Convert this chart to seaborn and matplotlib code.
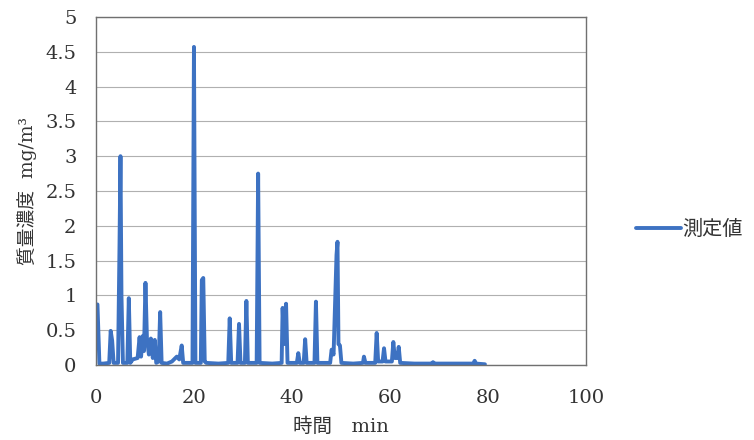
import numpy as np
import pandas as pd
import matplotlib
matplotlib.use("Agg")
import matplotlib.pyplot as plt
import seaborn as sns

time_min = [
    0.0, 0.3, 0.7, 1.5, 2.7, 3.0, 3.3, 3.6, 4.5, 4.8, 5.0, 5.2, 5.5,
    6.4, 6.7, 7.0, 7.5, 8.5, 8.9, 9.2, 9.6, 9.8, 10.1, 10.4, 10.8, 11.2,
    11.6, 12.0, 12.3, 12.8, 13.1, 13.4, 14.5, 15.5, 16.5, 17.0, 17.5, 17.8,
    19.7, 20.0, 20.3, 21.4, 21.6, 21.9, 22.2, 22.5, 25.0, 27.0, 27.3, 27.6,
    28.9, 29.2, 29.5, 30.4, 30.7, 31.0, 32.8, 33.1, 33.4, 36.0, 37.9, 38.1,
    38.4, 38.8, 39.1, 41.0, 41.3, 41.6, 42.4, 42.7, 43.0, 44.6, 44.9, 45.2,
    47.8, 48.1, 48.5, 49.1, 49.3, 49.5, 49.8, 50.1, 52.5, 54.5, 54.7, 55.0,
    57.0, 57.3, 57.6, 58.5, 58.8, 59.1, 60.4, 60.7, 61.0, 61.5, 61.8, 62.1,
    65.0, 68.5, 68.8, 69.1, 73.0, 77.0, 77.3, 77.6, 79.4,
]
conc_mg_m3 = [
    0.85, 0.87, 0.02, 0.02, 0.03, 0.49, 0.35, 0.03, 0.03, 1.70, 3.00, 1.00, 0.03,
    0.03, 0.96, 0.03, 0.08, 0.10, 0.40, 0.12, 0.42, 0.20, 1.18, 0.38, 0.15, 0.38,
    0.10, 0.36, 0.03, 0.05, 0.76, 0.03, 0.02, 0.05, 0.12, 0.08, 0.28, 0.03,
    0.03, 4.57, 0.03, 0.03, 1.22, 1.25, 0.05, 0.03, 0.02, 0.03, 0.67, 0.03,
    0.03, 0.59, 0.03, 0.03, 0.92, 0.03, 0.03, 2.75, 0.03, 0.02, 0.03, 0.82,
    0.30, 0.88, 0.03, 0.03, 0.17, 0.03, 0.03, 0.37, 0.03, 0.03, 0.91, 0.03,
    0.03, 0.22, 0.15, 1.58, 1.77, 0.30, 0.28, 0.03, 0.02, 0.03, 0.12, 0.03,
    0.03, 0.46, 0.05, 0.05, 0.24, 0.05, 0.05, 0.33, 0.10, 0.10, 0.26, 0.03,
    0.02, 0.02, 0.04, 0.02, 0.02, 0.02, 0.06, 0.02, 0.01,
]
x_ticks = [0, 20, 40, 60, 80, 100]
y_ticks = [0, 0.5, 1, 1.5, 2, 2.5, 3, 3.5, 4, 4.5, 5]

df = pd.DataFrame({"time": time_min, "conc": conc_mg_m3})

sns.set_style("white")
plt.rcParams["font.family"] = ["DejaVu Serif", "Noto Sans CJK JP"]

fig = plt.figure(figsize=(7.54, 4.4), dpi=100)
ax = fig.add_axes([0.1273, 0.1705, 0.6497, 0.7909])

sns.lineplot(data=df, x="time", y="conc", ax=ax, color="#3d72c2",
             linewidth=2.8, label="測定値", estimator=None)

ax.set_xlim(0, 100)
ax.set_ylim(0, 5)
ax.set_xticks(x_ticks)
ax.set_yticks(y_ticks)
ax.set_yticklabels([f"{v:g}" for v in y_ticks])
ax.tick_params(axis="both", length=0, labelsize=14, colors="#333333")
ax.tick_params(axis="y", pad=14)
ax.tick_params(axis="x", pad=17)
ax.yaxis.grid(True, color="#b0b0b0", linewidth=0.8)
ax.xaxis.grid(False)
for s in ax.spines.values():
    s.set_color("#707070")
    s.set_linewidth(1.0)

ax.set_xlabel("時間　min", fontsize=14, color="#333333", labelpad=8,
              family=["DejaVu Serif", "Noto Sans CJK JP"])
ax.set_ylabel("質量濃度  mg/m³", fontsize=13.5, color="#333333", labelpad=6,
              family=["DejaVu Serif", "Noto Sans CJK JP"])

leg = ax.legend(loc="center left", bbox_to_anchor=(1.066, 0.39), frameon=False,
                handlelength=2.2, handletextpad=0.1,
                prop={"family": ["Noto Sans CJK JP"], "size": 14.5})
for t in leg.get_texts():
    t.set_color("#333333")

fig.savefig("out.png", dpi=100)
